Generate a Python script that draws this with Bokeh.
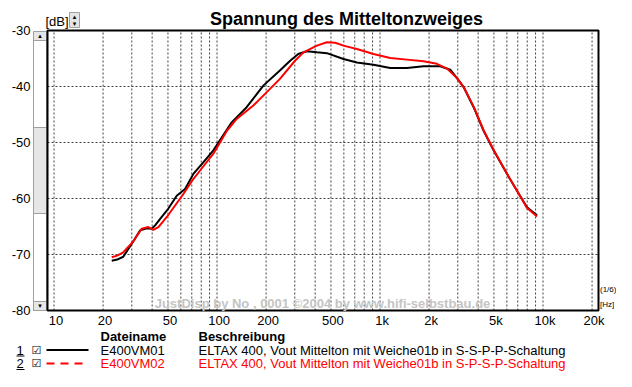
import math
from bokeh.plotting import figure
from bokeh.models import Label, BoxAnnotation, Arrow, Range1d
from bokeh.core.properties import value
from bokeh.embed import file_html
from bokeh.resources import INLINE

# ---------------- data ----------------
freq_black = [22.6, 24.4, 26.6, 30.4, 33.7, 37.1, 39.8, 41.7, 45.8, 50.3, 56.6, 63.7,
              71.6, 82.6, 95.0, 123, 152, 193, 244, 281, 315, 356, 410, 472, 597, 721,
              912, 1155, 1463, 1849, 2344, 2698, 2966, 3258, 3753, 4319, 4972, 6010,
              6924, 7976, 9190]
db_black = [-71.1, -70.9, -70.4, -67.8, -65.7, -65.3, -65.4, -64.8, -63.3, -61.8, -59.5, -58.3,
            -55.6, -53.5, -51.4, -46.4, -43.7, -39.8, -37.1, -35.4, -34.2, -33.7, -33.9, -34.05,
            -35.1, -35.7, -36.1, -36.7, -36.7, -36.4, -36.4, -37.0, -38.5, -40.1, -43.7, -47.9,
            -51.4, -55.6, -58.6, -61.55, -63.0]

freq_red = [22.6, 24.4, 26.6, 30.4, 34.5, 37.9, 40.7, 43.7, 49.2, 55.3, 62.2, 70.0,
            78.7, 95.0, 115, 132, 167, 202, 244, 301, 339, 410, 472, 531, 597, 721,
            912, 1155, 1463, 1849, 2233, 2576, 2966, 3258, 3753, 4319, 4972, 6010,
            6924, 7976, 9190]
db_red = [-70.5, -70.2, -69.6, -67.8, -65.4, -65.1, -65.6, -65.1, -63.3, -61.25, -59.2, -56.9,
          -55.0, -52.0, -47.9, -45.8, -43.4, -41.0, -38.6, -35.4, -33.9, -32.7, -32.1, -32.2,
          -32.7, -33.3, -34.2, -34.9, -35.2, -35.5, -35.95, -36.8, -38.5, -40.1, -43.6, -47.8,
          -51.3, -55.6, -58.6, -61.7, -63.2]

x_ticks = [10, 20, 50, 100, 200, 500, 1000, 2000, 5000, 10000, 20000]
x_tick_labels = ["10", "20", "50", "100", "200", "500", "1k", "2k", "5k", "10k", "20k"]
y_ticks = [-30, -40, -50, -60, -70, -80]
y_tick_labels = ["-30", "-40", "-50", "-60", "-70", "-80"]
x_grid = [m * 10 ** e for e in range(1, 5) for m in range(1, 10) if m * 10 ** e <= 20000]
y_grid = [-40, -50, -60, -70]
f_lo, f_hi = 9.12, 21900      # visible frequency span of the plot box
db_lo, db_hi = -80, -30       # visible level span of the plot box

title_text = "Spannung des Mitteltonzweiges"
watermark_text = "JustDisp by No , 0001 \u00a92004 by www.hifi-selbstbau.de"
legend_header = ["Dateiname", "Beschreibung"]
legend_ids = ["1", "2"]
legend_files = ["E400VM01", "E400VM02"]
legend_desc = ["ELTAX 400, Vout Mittelton mit Weiche01b in S-S-P-P-Schaltung",
               "ELTAX 400, Vout Mittelton mit Weiche01b in S-P-S-P-Schaltung"]
series_colors = ["black", "#ff0000"]

# ---------------- layout geometry (canvas pixels) ----------------
W, H = 616, 371
PL, PR, PT, PB = 47, 598, 30, 310
FONT = "Liberation Sans"

dec = (PR - PL) / (math.log10(f_hi) - math.log10(f_lo))
xr0 = 10 ** (math.log10(f_lo) - PL / dec)
xr1 = 10 ** (math.log10(f_hi) + (W - PR) / dec)
ppd = (PB - PT) / (db_hi - db_lo)
yr1 = db_hi + PT / ppd
yr0 = db_lo - (H - PB) / ppd

p = figure(width=W, height=H, x_axis_type="log", x_axis_location=None,
           y_axis_location=None, output_backend="svg", toolbar_location=None,
           min_border=0, min_border_left=0, min_border_right=0,
           min_border_top=0, min_border_bottom=0,
           x_range=Range1d(xr0, xr1), y_range=Range1d(yr0, yr1))
p.background_fill_color = "white"
p.border_fill_color = "white"
p.outline_line_color = None
p.grid.visible = False


def sy(y):  # top-down canvas y -> bottom-up screen y
    return H - y


def box(l, r, t, b, fill, line="#a0a0a0"):
    p.add_layout(BoxAnnotation(left=l, right=r, top=sy(t), bottom=sy(b),
                               left_units="screen", right_units="screen",
                               top_units="screen", bottom_units="screen",
                               fill_color=fill, fill_alpha=1.0,
                               line_color=line, line_width=1, line_alpha=1.0,
                               level="underlay"))


def label(x, y, text, size="13px", color="black", bold=False, align="left",
          baseline="middle", font=FONT):
    p.add_layout(Label(x=x, y=sy(y), x_units="screen", y_units="screen", text=text,
                       text_font=font, text_font_size=size, text_color=color,
                       text_font_style="bold" if bold else "normal",
                       text_align=align, text_baseline=baseline))


# plot box
p.quad(left=[f_lo], right=[f_hi], bottom=[db_lo], top=[db_hi],
       fill_color="white", line_color=None)

# grid
p.segment(x0=x_grid, y0=[db_lo] * len(x_grid), x1=x_grid, y1=[db_hi] * len(x_grid),
          line_color="#404040", line_width=1, line_dash="2 2")
p.segment(x0=[f_lo] * len(y_grid), y0=y_grid, x1=[f_hi] * len(y_grid), y1=y_grid,
          line_color="#404040", line_width=1, line_dash="2 2")

# watermark
label(322, 303, watermark_text, color="#c4c4c4", bold=True, align="center")

# curves
p.line(freq_black, db_black, line_color=series_colors[0], line_width=2)
p.line(freq_red, db_red, line_color=series_colors[1], line_width=2)

# plot box border
p.quad(left=[f_lo], right=[f_hi], bottom=[db_lo], top=[db_hi],
       fill_color=None, line_color="black", line_width=2)

# tick labels
p.text(x=[f_lo] * len(y_ticks), y=y_ticks, text=y_tick_labels, x_offset=-17,
       text_align="right", text_baseline="middle", text_font=value(FONT),
       text_font_size="13px", text_color="black")
p.text(x=x_ticks, y=[db_lo] * len(x_ticks), text=x_tick_labels, x_offset=2, y_offset=10,
       text_align="center", text_baseline="middle", text_font=value(FONT),
       text_font_size="13px", text_color="black")

# title
label(346, 18, title_text, size="18px", bold=True, align="center")

# [dB] with spinner
label(45, 20.5, "[dB]")
box(69, 79, 12, 27, "#e4e4e4")
label(74, 16.5, "\u25b4", size="7px", align="center", font="DejaVu Sans")
label(74, 23, "\u25be", size="7px", align="center", font="DejaVu Sans")

# scrollbar at left of plot
box(33, 46, 31, 310, "white")
box(33, 46, 127, 213, "#e6e6e6")
box(33, 46, 31, 40, "#e6e6e6")
box(33, 46, 301, 310, "#e6e6e6")
label(39.5, 35.5, "\u25b4", size="7px", align="center", font="DejaVu Sans")
label(39.5, 305.5, "\u25be", size="7px", align="center", font="DejaVu Sans")

# unit labels at the right
label(599.5, 289, "(1/6)", size="8px")
label(599.5, 304, "[Hz]", size="8px")

# legend table
label(100, 336, legend_header[0], bold=True)
label(198, 336, legend_header[1], bold=True)

row_c = [349.5, 363]
dashes = ["solid", "8 6"]
for i in range(2):
    yc = row_c[i]
    col = series_colors[i]
    label(16, yc, legend_ids[i])
    p.add_layout(Arrow(x_start=16, y_start=sy(yc + 6), x_end=24, y_end=sy(yc + 6),
                       start_units="screen", end_units="screen", start=None, end=None,
                       line_color="black", line_width=1))
    label(36, yc, "\u2611", size="11px", align="center", font="DejaVu Sans")
    p.add_layout(Arrow(x_start=46, y_start=sy(yc), x_end=88, y_end=sy(yc),
                       start_units="screen", end_units="screen", start=None, end=None,
                       line_color=col, line_width=2, line_dash=dashes[i]))
    label(100, yc, legend_files[i], color=col)
    label(198, yc, legend_desc[i], color=col)

open("out.html", "w").write(file_html(p, INLINE))
